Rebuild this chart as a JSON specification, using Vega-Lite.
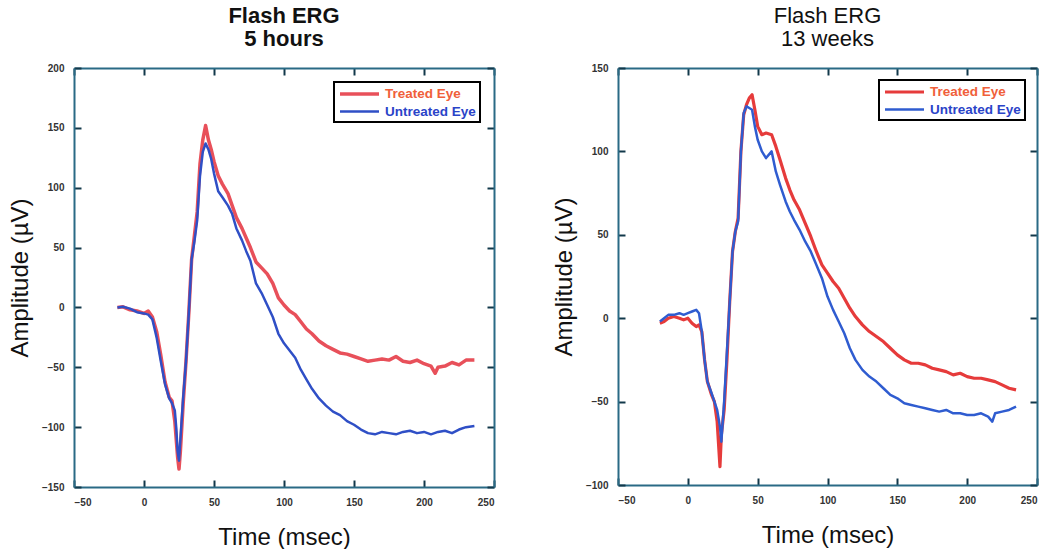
{
  "$schema": "https://vega.github.io/schema/vega-lite/v6.json",
  "background": "white",
  "padding": {"left": 8, "top": 5, "right": 5, "bottom": 0},
  "spacing": 57,
  "config": {
    "font": "Liberation Sans",
    "view": {"stroke": null},
    "axis": {
      "grid": false,
      "domainColor": "#2a6a85",
      "domainWidth": 2,
      "tickColor": "#12384a",
      "tickWidth": 2,
      "tickSize": -7,
      "labelFont": "Liberation Sans",
      "labelFontSize": 10,
      "labelFontWeight": "bold",
      "labelColor": "#333333",
      "titleFont": "Liberation Sans",
      "titleFontSize": 24,
      "titleFontWeight": "normal",
      "titleColor": "#111111"
    },
    "legend": {
      "orient": "top-right",
      "title": null,
      "strokeColor": "#000000",
      "strokeWidth": 2,
      "fillColor": "white",
      "padding": 4,
      "symbolType": "M-1,0H5.5",
      "symbolSize": 144,
      "symbolStrokeWidth": 2,
      "labelOffset": 31,
      "labelFont": "Liberation Sans",
      "labelFontSize": 13.5,
      "labelFontWeight": "bold",
      "rowPadding": 3
    }
  },
  "datasets": {
    "h5": [
      {"t": -19, "v": 0, "eye": "Treated Eye"},
      {"t": -15, "v": 0.5, "eye": "Treated Eye"},
      {"t": -10, "v": -2, "eye": "Treated Eye"},
      {"t": -5, "v": -3, "eye": "Treated Eye"},
      {"t": 0, "v": -5, "eye": "Treated Eye"},
      {"t": 3, "v": -3, "eye": "Treated Eye"},
      {"t": 6, "v": -8, "eye": "Treated Eye"},
      {"t": 9, "v": -20, "eye": "Treated Eye"},
      {"t": 12, "v": -40, "eye": "Treated Eye"},
      {"t": 15, "v": -62, "eye": "Treated Eye"},
      {"t": 18, "v": -75, "eye": "Treated Eye"},
      {"t": 20, "v": -78, "eye": "Treated Eye"},
      {"t": 22, "v": -95, "eye": "Treated Eye"},
      {"t": 24, "v": -125, "eye": "Treated Eye"},
      {"t": 25, "v": -135, "eye": "Treated Eye"},
      {"t": 26, "v": -120, "eye": "Treated Eye"},
      {"t": 28, "v": -80, "eye": "Treated Eye"},
      {"t": 30, "v": -45, "eye": "Treated Eye"},
      {"t": 32, "v": -5, "eye": "Treated Eye"},
      {"t": 34, "v": 40, "eye": "Treated Eye"},
      {"t": 36, "v": 60, "eye": "Treated Eye"},
      {"t": 38, "v": 80, "eye": "Treated Eye"},
      {"t": 40, "v": 120, "eye": "Treated Eye"},
      {"t": 42, "v": 140, "eye": "Treated Eye"},
      {"t": 44, "v": 152, "eye": "Treated Eye"},
      {"t": 46, "v": 140, "eye": "Treated Eye"},
      {"t": 48, "v": 132, "eye": "Treated Eye"},
      {"t": 50, "v": 122, "eye": "Treated Eye"},
      {"t": 53, "v": 110, "eye": "Treated Eye"},
      {"t": 56, "v": 103, "eye": "Treated Eye"},
      {"t": 60, "v": 95, "eye": "Treated Eye"},
      {"t": 63, "v": 85, "eye": "Treated Eye"},
      {"t": 66, "v": 75, "eye": "Treated Eye"},
      {"t": 70, "v": 66, "eye": "Treated Eye"},
      {"t": 73, "v": 58, "eye": "Treated Eye"},
      {"t": 76, "v": 50, "eye": "Treated Eye"},
      {"t": 80, "v": 38, "eye": "Treated Eye"},
      {"t": 84, "v": 33, "eye": "Treated Eye"},
      {"t": 88, "v": 28, "eye": "Treated Eye"},
      {"t": 92, "v": 20, "eye": "Treated Eye"},
      {"t": 96, "v": 8, "eye": "Treated Eye"},
      {"t": 100, "v": 2, "eye": "Treated Eye"},
      {"t": 104, "v": -3, "eye": "Treated Eye"},
      {"t": 108, "v": -6, "eye": "Treated Eye"},
      {"t": 112, "v": -12, "eye": "Treated Eye"},
      {"t": 116, "v": -18, "eye": "Treated Eye"},
      {"t": 120, "v": -22, "eye": "Treated Eye"},
      {"t": 125, "v": -28, "eye": "Treated Eye"},
      {"t": 130, "v": -32, "eye": "Treated Eye"},
      {"t": 135, "v": -35, "eye": "Treated Eye"},
      {"t": 140, "v": -38, "eye": "Treated Eye"},
      {"t": 145, "v": -39, "eye": "Treated Eye"},
      {"t": 150, "v": -41, "eye": "Treated Eye"},
      {"t": 155, "v": -43, "eye": "Treated Eye"},
      {"t": 160, "v": -45, "eye": "Treated Eye"},
      {"t": 165, "v": -44, "eye": "Treated Eye"},
      {"t": 170, "v": -43, "eye": "Treated Eye"},
      {"t": 175, "v": -44, "eye": "Treated Eye"},
      {"t": 180, "v": -41, "eye": "Treated Eye"},
      {"t": 185, "v": -45, "eye": "Treated Eye"},
      {"t": 190, "v": -46, "eye": "Treated Eye"},
      {"t": 195, "v": -44, "eye": "Treated Eye"},
      {"t": 200, "v": -47, "eye": "Treated Eye"},
      {"t": 205, "v": -49, "eye": "Treated Eye"},
      {"t": 208, "v": -55, "eye": "Treated Eye"},
      {"t": 210, "v": -50, "eye": "Treated Eye"},
      {"t": 215, "v": -49, "eye": "Treated Eye"},
      {"t": 220, "v": -46, "eye": "Treated Eye"},
      {"t": 225, "v": -48, "eye": "Treated Eye"},
      {"t": 230, "v": -44, "eye": "Treated Eye"},
      {"t": 236, "v": -44, "eye": "Treated Eye"},
      {"t": -19, "v": 0, "eye": "Untreated Eye"},
      {"t": -15, "v": 0.5, "eye": "Untreated Eye"},
      {"t": -10, "v": -1, "eye": "Untreated Eye"},
      {"t": -5, "v": -4, "eye": "Untreated Eye"},
      {"t": 0, "v": -5, "eye": "Untreated Eye"},
      {"t": 3, "v": -6, "eye": "Untreated Eye"},
      {"t": 6, "v": -10, "eye": "Untreated Eye"},
      {"t": 9, "v": -25, "eye": "Untreated Eye"},
      {"t": 12, "v": -45, "eye": "Untreated Eye"},
      {"t": 15, "v": -64, "eye": "Untreated Eye"},
      {"t": 18, "v": -76, "eye": "Untreated Eye"},
      {"t": 20, "v": -80, "eye": "Untreated Eye"},
      {"t": 22, "v": -86, "eye": "Untreated Eye"},
      {"t": 23, "v": -100, "eye": "Untreated Eye"},
      {"t": 24, "v": -120, "eye": "Untreated Eye"},
      {"t": 25, "v": -128, "eye": "Untreated Eye"},
      {"t": 26, "v": -110, "eye": "Untreated Eye"},
      {"t": 28, "v": -75, "eye": "Untreated Eye"},
      {"t": 30, "v": -45, "eye": "Untreated Eye"},
      {"t": 32, "v": -5, "eye": "Untreated Eye"},
      {"t": 34, "v": 40, "eye": "Untreated Eye"},
      {"t": 36, "v": 55, "eye": "Untreated Eye"},
      {"t": 38, "v": 73, "eye": "Untreated Eye"},
      {"t": 40, "v": 110, "eye": "Untreated Eye"},
      {"t": 42, "v": 130, "eye": "Untreated Eye"},
      {"t": 44, "v": 137, "eye": "Untreated Eye"},
      {"t": 46, "v": 132, "eye": "Untreated Eye"},
      {"t": 48, "v": 124, "eye": "Untreated Eye"},
      {"t": 50, "v": 112, "eye": "Untreated Eye"},
      {"t": 53, "v": 97, "eye": "Untreated Eye"},
      {"t": 56, "v": 92, "eye": "Untreated Eye"},
      {"t": 60, "v": 85, "eye": "Untreated Eye"},
      {"t": 63, "v": 78, "eye": "Untreated Eye"},
      {"t": 66, "v": 66, "eye": "Untreated Eye"},
      {"t": 70, "v": 56, "eye": "Untreated Eye"},
      {"t": 73, "v": 47, "eye": "Untreated Eye"},
      {"t": 76, "v": 39, "eye": "Untreated Eye"},
      {"t": 80, "v": 20, "eye": "Untreated Eye"},
      {"t": 84, "v": 12, "eye": "Untreated Eye"},
      {"t": 88, "v": 2, "eye": "Untreated Eye"},
      {"t": 92, "v": -8, "eye": "Untreated Eye"},
      {"t": 96, "v": -22, "eye": "Untreated Eye"},
      {"t": 100, "v": -30, "eye": "Untreated Eye"},
      {"t": 104, "v": -36, "eye": "Untreated Eye"},
      {"t": 108, "v": -42, "eye": "Untreated Eye"},
      {"t": 112, "v": -52, "eye": "Untreated Eye"},
      {"t": 116, "v": -60, "eye": "Untreated Eye"},
      {"t": 120, "v": -68, "eye": "Untreated Eye"},
      {"t": 125, "v": -76, "eye": "Untreated Eye"},
      {"t": 130, "v": -82, "eye": "Untreated Eye"},
      {"t": 135, "v": -87, "eye": "Untreated Eye"},
      {"t": 140, "v": -90, "eye": "Untreated Eye"},
      {"t": 145, "v": -95, "eye": "Untreated Eye"},
      {"t": 150, "v": -98, "eye": "Untreated Eye"},
      {"t": 155, "v": -102, "eye": "Untreated Eye"},
      {"t": 160, "v": -105, "eye": "Untreated Eye"},
      {"t": 165, "v": -106, "eye": "Untreated Eye"},
      {"t": 170, "v": -104, "eye": "Untreated Eye"},
      {"t": 175, "v": -105, "eye": "Untreated Eye"},
      {"t": 180, "v": -106, "eye": "Untreated Eye"},
      {"t": 185, "v": -104, "eye": "Untreated Eye"},
      {"t": 190, "v": -103, "eye": "Untreated Eye"},
      {"t": 195, "v": -105, "eye": "Untreated Eye"},
      {"t": 200, "v": -104, "eye": "Untreated Eye"},
      {"t": 205, "v": -106, "eye": "Untreated Eye"},
      {"t": 210, "v": -104, "eye": "Untreated Eye"},
      {"t": 215, "v": -103, "eye": "Untreated Eye"},
      {"t": 220, "v": -105, "eye": "Untreated Eye"},
      {"t": 225, "v": -102, "eye": "Untreated Eye"},
      {"t": 230, "v": -100, "eye": "Untreated Eye"},
      {"t": 236, "v": -99, "eye": "Untreated Eye"}
    ],
    "w13": [
      {"t": -20, "v": -3, "eye": "Treated Eye"},
      {"t": -17, "v": -2, "eye": "Treated Eye"},
      {"t": -14, "v": 0, "eye": "Treated Eye"},
      {"t": -10, "v": 1, "eye": "Treated Eye"},
      {"t": -6, "v": 0, "eye": "Treated Eye"},
      {"t": -3, "v": -1, "eye": "Treated Eye"},
      {"t": 0, "v": 0, "eye": "Treated Eye"},
      {"t": 3, "v": -3, "eye": "Treated Eye"},
      {"t": 6, "v": -5, "eye": "Treated Eye"},
      {"t": 8, "v": -4, "eye": "Treated Eye"},
      {"t": 10, "v": -8, "eye": "Treated Eye"},
      {"t": 12, "v": -25, "eye": "Treated Eye"},
      {"t": 14, "v": -38, "eye": "Treated Eye"},
      {"t": 17, "v": -46, "eye": "Treated Eye"},
      {"t": 19, "v": -50, "eye": "Treated Eye"},
      {"t": 21, "v": -62, "eye": "Treated Eye"},
      {"t": 23, "v": -89, "eye": "Treated Eye"},
      {"t": 24, "v": -70, "eye": "Treated Eye"},
      {"t": 26, "v": -55, "eye": "Treated Eye"},
      {"t": 28, "v": -25, "eye": "Treated Eye"},
      {"t": 30, "v": 10, "eye": "Treated Eye"},
      {"t": 32, "v": 40, "eye": "Treated Eye"},
      {"t": 34, "v": 52, "eye": "Treated Eye"},
      {"t": 36, "v": 60, "eye": "Treated Eye"},
      {"t": 38, "v": 100, "eye": "Treated Eye"},
      {"t": 40, "v": 122, "eye": "Treated Eye"},
      {"t": 42, "v": 128, "eye": "Treated Eye"},
      {"t": 44, "v": 132, "eye": "Treated Eye"},
      {"t": 46, "v": 134, "eye": "Treated Eye"},
      {"t": 48, "v": 125, "eye": "Treated Eye"},
      {"t": 50, "v": 115, "eye": "Treated Eye"},
      {"t": 53, "v": 110, "eye": "Treated Eye"},
      {"t": 56, "v": 111, "eye": "Treated Eye"},
      {"t": 60, "v": 110, "eye": "Treated Eye"},
      {"t": 63, "v": 103, "eye": "Treated Eye"},
      {"t": 66, "v": 95, "eye": "Treated Eye"},
      {"t": 70, "v": 84, "eye": "Treated Eye"},
      {"t": 73, "v": 77, "eye": "Treated Eye"},
      {"t": 76, "v": 71, "eye": "Treated Eye"},
      {"t": 80, "v": 65, "eye": "Treated Eye"},
      {"t": 84, "v": 57, "eye": "Treated Eye"},
      {"t": 88, "v": 49, "eye": "Treated Eye"},
      {"t": 92, "v": 40, "eye": "Treated Eye"},
      {"t": 96, "v": 32, "eye": "Treated Eye"},
      {"t": 100, "v": 27, "eye": "Treated Eye"},
      {"t": 104, "v": 22, "eye": "Treated Eye"},
      {"t": 108, "v": 18, "eye": "Treated Eye"},
      {"t": 112, "v": 12, "eye": "Treated Eye"},
      {"t": 116, "v": 6, "eye": "Treated Eye"},
      {"t": 120, "v": 1, "eye": "Treated Eye"},
      {"t": 125, "v": -4, "eye": "Treated Eye"},
      {"t": 130, "v": -8, "eye": "Treated Eye"},
      {"t": 135, "v": -11, "eye": "Treated Eye"},
      {"t": 140, "v": -14, "eye": "Treated Eye"},
      {"t": 145, "v": -18, "eye": "Treated Eye"},
      {"t": 150, "v": -22, "eye": "Treated Eye"},
      {"t": 155, "v": -25, "eye": "Treated Eye"},
      {"t": 160, "v": -27, "eye": "Treated Eye"},
      {"t": 165, "v": -27, "eye": "Treated Eye"},
      {"t": 170, "v": -28, "eye": "Treated Eye"},
      {"t": 175, "v": -30, "eye": "Treated Eye"},
      {"t": 180, "v": -31, "eye": "Treated Eye"},
      {"t": 185, "v": -32, "eye": "Treated Eye"},
      {"t": 190, "v": -34, "eye": "Treated Eye"},
      {"t": 195, "v": -33, "eye": "Treated Eye"},
      {"t": 200, "v": -35, "eye": "Treated Eye"},
      {"t": 205, "v": -36, "eye": "Treated Eye"},
      {"t": 210, "v": -36, "eye": "Treated Eye"},
      {"t": 215, "v": -37, "eye": "Treated Eye"},
      {"t": 220, "v": -38, "eye": "Treated Eye"},
      {"t": 225, "v": -40, "eye": "Treated Eye"},
      {"t": 230, "v": -42, "eye": "Treated Eye"},
      {"t": 235, "v": -43, "eye": "Treated Eye"},
      {"t": -20, "v": -2, "eye": "Untreated Eye"},
      {"t": -17, "v": 0, "eye": "Untreated Eye"},
      {"t": -14, "v": 2, "eye": "Untreated Eye"},
      {"t": -10, "v": 2, "eye": "Untreated Eye"},
      {"t": -6, "v": 3, "eye": "Untreated Eye"},
      {"t": -3, "v": 2, "eye": "Untreated Eye"},
      {"t": 0, "v": 3, "eye": "Untreated Eye"},
      {"t": 3, "v": 4, "eye": "Untreated Eye"},
      {"t": 6, "v": 5, "eye": "Untreated Eye"},
      {"t": 8, "v": 3, "eye": "Untreated Eye"},
      {"t": 10, "v": -8, "eye": "Untreated Eye"},
      {"t": 12, "v": -25, "eye": "Untreated Eye"},
      {"t": 14, "v": -38, "eye": "Untreated Eye"},
      {"t": 17, "v": -45, "eye": "Untreated Eye"},
      {"t": 19, "v": -50, "eye": "Untreated Eye"},
      {"t": 21, "v": -55, "eye": "Untreated Eye"},
      {"t": 23, "v": -65, "eye": "Untreated Eye"},
      {"t": 24, "v": -74, "eye": "Untreated Eye"},
      {"t": 26, "v": -50, "eye": "Untreated Eye"},
      {"t": 28, "v": -20, "eye": "Untreated Eye"},
      {"t": 30, "v": 10, "eye": "Untreated Eye"},
      {"t": 32, "v": 40, "eye": "Untreated Eye"},
      {"t": 34, "v": 52, "eye": "Untreated Eye"},
      {"t": 36, "v": 58, "eye": "Untreated Eye"},
      {"t": 38, "v": 100, "eye": "Untreated Eye"},
      {"t": 40, "v": 123, "eye": "Untreated Eye"},
      {"t": 42, "v": 127, "eye": "Untreated Eye"},
      {"t": 44, "v": 126, "eye": "Untreated Eye"},
      {"t": 46, "v": 125, "eye": "Untreated Eye"},
      {"t": 48, "v": 115, "eye": "Untreated Eye"},
      {"t": 50, "v": 107, "eye": "Untreated Eye"},
      {"t": 53, "v": 100, "eye": "Untreated Eye"},
      {"t": 56, "v": 96, "eye": "Untreated Eye"},
      {"t": 60, "v": 100, "eye": "Untreated Eye"},
      {"t": 63, "v": 88, "eye": "Untreated Eye"},
      {"t": 66, "v": 80, "eye": "Untreated Eye"},
      {"t": 70, "v": 70, "eye": "Untreated Eye"},
      {"t": 73, "v": 64, "eye": "Untreated Eye"},
      {"t": 76, "v": 59, "eye": "Untreated Eye"},
      {"t": 80, "v": 53, "eye": "Untreated Eye"},
      {"t": 84, "v": 46, "eye": "Untreated Eye"},
      {"t": 88, "v": 40, "eye": "Untreated Eye"},
      {"t": 92, "v": 32, "eye": "Untreated Eye"},
      {"t": 96, "v": 24, "eye": "Untreated Eye"},
      {"t": 100, "v": 13, "eye": "Untreated Eye"},
      {"t": 104, "v": 5, "eye": "Untreated Eye"},
      {"t": 108, "v": -2, "eye": "Untreated Eye"},
      {"t": 112, "v": -9, "eye": "Untreated Eye"},
      {"t": 116, "v": -18, "eye": "Untreated Eye"},
      {"t": 120, "v": -25, "eye": "Untreated Eye"},
      {"t": 125, "v": -31, "eye": "Untreated Eye"},
      {"t": 130, "v": -35, "eye": "Untreated Eye"},
      {"t": 135, "v": -38, "eye": "Untreated Eye"},
      {"t": 140, "v": -42, "eye": "Untreated Eye"},
      {"t": 145, "v": -46, "eye": "Untreated Eye"},
      {"t": 150, "v": -48, "eye": "Untreated Eye"},
      {"t": 155, "v": -51, "eye": "Untreated Eye"},
      {"t": 160, "v": -52, "eye": "Untreated Eye"},
      {"t": 165, "v": -53, "eye": "Untreated Eye"},
      {"t": 170, "v": -54, "eye": "Untreated Eye"},
      {"t": 175, "v": -55, "eye": "Untreated Eye"},
      {"t": 180, "v": -56, "eye": "Untreated Eye"},
      {"t": 185, "v": -55, "eye": "Untreated Eye"},
      {"t": 190, "v": -57, "eye": "Untreated Eye"},
      {"t": 195, "v": -57, "eye": "Untreated Eye"},
      {"t": 200, "v": -58, "eye": "Untreated Eye"},
      {"t": 205, "v": -58, "eye": "Untreated Eye"},
      {"t": 210, "v": -57, "eye": "Untreated Eye"},
      {"t": 215, "v": -59, "eye": "Untreated Eye"},
      {"t": 218, "v": -62, "eye": "Untreated Eye"},
      {"t": 220, "v": -57, "eye": "Untreated Eye"},
      {"t": 225, "v": -56, "eye": "Untreated Eye"},
      {"t": 230, "v": -55, "eye": "Untreated Eye"},
      {"t": 235, "v": -53, "eye": "Untreated Eye"}
    ]
  },
  "hconcat": [
    {
      "width": 420,
      "height": 419,
      "title": {"text": ["Flash ERG", "5 hours"], "fontSize": 22, "fontWeight": "bold", "lineHeight": 23, "anchor": "middle", "color": "#111111", "offset": 12, "font": "Liberation Sans"},
      "data": {"name": "h5"},
      "resolve": {"axis": {"x": "independent", "y": "independent"}},
      "layer": [
        {
          "mark": {"type": "line", "strokeJoin": "round"},
          "encoding": {
            "x": {"field": "t", "type": "quantitative", "scale": {"domain": [-50, 250], "nice": false}, "axis": {"title": "Time (msec)", "orient": "bottom", "values": [-50, 0, 50, 100, 150, 200, 250], "labelPadding": 17, "titlePadding": 18}},
            "y": {"field": "v", "type": "quantitative", "scale": {"domain": [-150, 200], "nice": false}, "axis": {"title": "Amplitude (µV)", "orient": "left", "values": [-150, -100, -50, 0, 50, 100, 150, 200], "labelPadding": 17, "titlePadding": 9}},
            "color": {"field": "eye", "type": "nominal", "scale": {"domain": ["Treated Eye", "Untreated Eye"], "range": ["#e8505a", "#2f4fc6"]}, "legend": {"offset": 14, "encode": {"labels": {"update": {"fill": {"signal": "datum.value === 'Treated Eye' ? '#f0603a' : '#2a44c8'"}}}}}},
            "strokeWidth": {"field": "eye", "type": "nominal", "scale": {"domain": ["Treated Eye", "Untreated Eye"], "range": [3.5, 2.5]}, "legend": null}
          }
        },
        {
          "mark": {"type": "line", "opacity": 0},
          "encoding": {
            "x": {"field": "t", "type": "quantitative", "axis": {"title": null, "orient": "top", "labels": false, "values": [-50, 0, 50, 100, 150, 200, 250]}},
            "y": {"field": "v", "type": "quantitative", "axis": {"title": null, "orient": "right", "labels": false, "values": [-150, -100, -50, 0, 50, 100, 150, 200]}}
          }
        }
      ]
    },
    {
      "width": 419,
      "height": 417,
      "title": {"text": ["Flash ERG", "13 weeks"], "fontSize": 22, "fontWeight": "normal", "lineHeight": 23, "anchor": "middle", "color": "#111111", "offset": 12, "font": "Liberation Sans"},
      "data": {"name": "w13"},
      "resolve": {"axis": {"x": "independent", "y": "independent"}},
      "layer": [
        {
          "mark": {"type": "line", "strokeJoin": "round"},
          "encoding": {
            "x": {"field": "t", "type": "quantitative", "scale": {"domain": [-50, 250], "nice": false}, "axis": {"title": "Time (msec)", "orient": "bottom", "values": [-50, 0, 50, 100, 150, 200, 250], "labelPadding": 17, "titlePadding": 18}},
            "y": {"field": "v", "type": "quantitative", "scale": {"domain": [-100, 150], "nice": false}, "axis": {"title": "Amplitude (µV)", "orient": "left", "values": [-100, -50, 0, 50, 100, 150], "labelPadding": 17, "titlePadding": 9}},
            "color": {"field": "eye", "type": "nominal", "scale": {"domain": ["Treated Eye", "Untreated Eye"], "range": ["#e63b3b", "#2f5cd0"]}, "legend": {"offset": 12, "encode": {"labels": {"update": {"fill": {"signal": "datum.value === 'Treated Eye' ? '#f0603a' : '#2a44c8'"}}}}}},
            "strokeWidth": {"field": "eye", "type": "nominal", "scale": {"domain": ["Treated Eye", "Untreated Eye"], "range": [3.2, 2.5]}, "legend": null}
          }
        },
        {
          "mark": {"type": "line", "opacity": 0},
          "encoding": {
            "x": {"field": "t", "type": "quantitative", "axis": {"title": null, "orient": "top", "labels": false, "values": [-50, 0, 50, 100, 150, 200, 250]}},
            "y": {"field": "v", "type": "quantitative", "axis": {"title": null, "orient": "right", "labels": false, "values": [-100, -50, 0, 50, 100, 150]}}
          }
        }
      ]
    }
  ],
  "resolve": {"scale": {"color": "independent", "strokeWidth": "independent"}}
}
